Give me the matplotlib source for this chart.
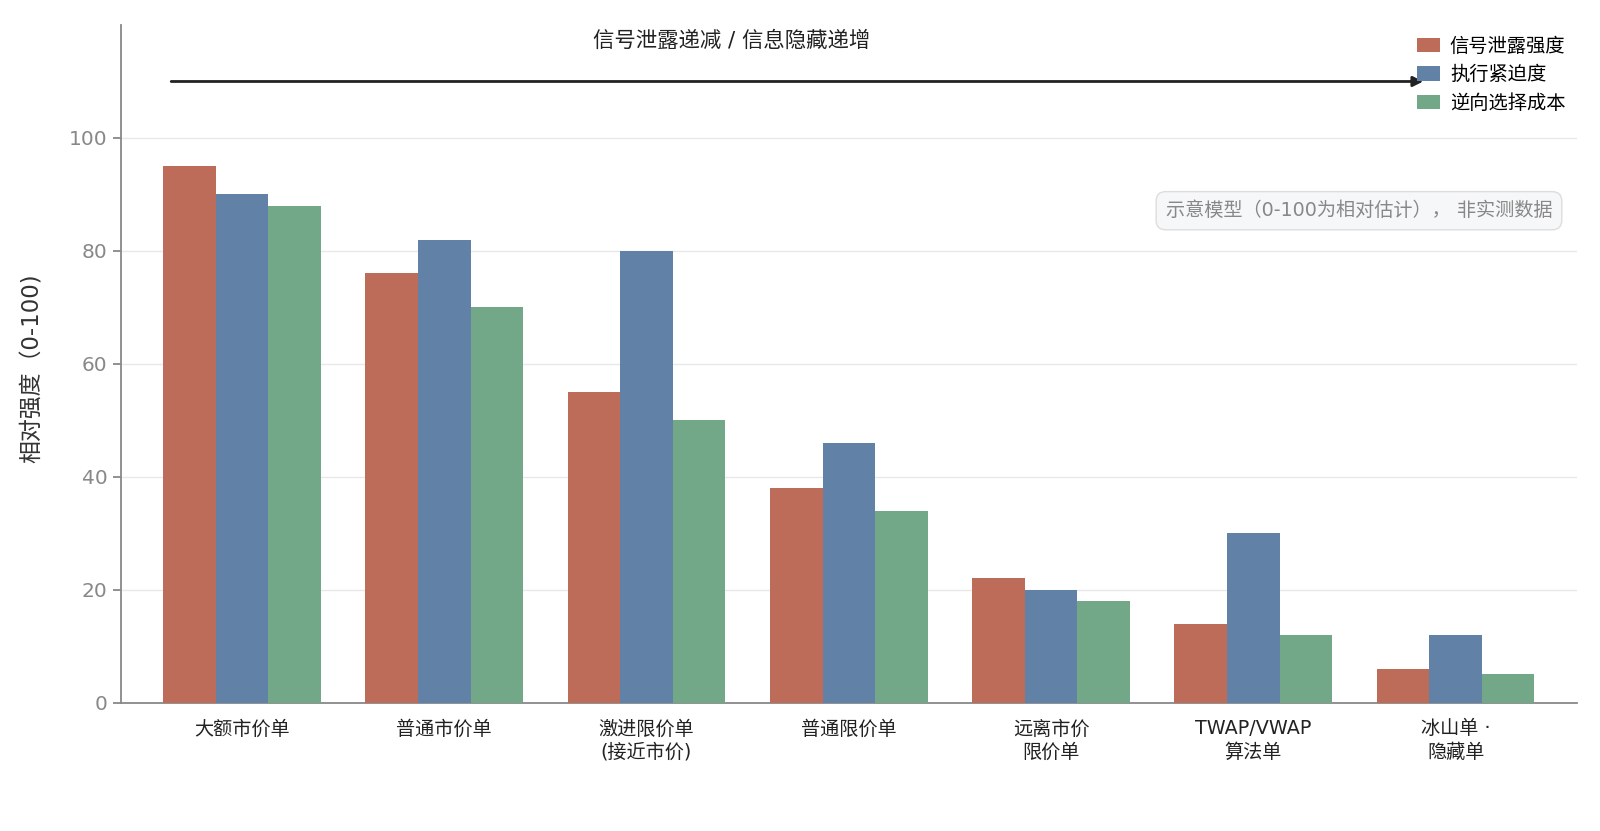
import matplotlib
matplotlib.use("Agg")
import matplotlib.pyplot as plt
import numpy as np

plt.rcParams['font.family'] = ['DejaVu Sans', 'Noto Sans CJK SC']

categories = ['大额市价单', '普通市价单', '激进限价单\n(接近市价)', '普通限价单',
              '远离市价\n限价单', 'TWAP/VWAP\n算法单', '冰山单 ·\n隐藏单']
series_names = ['信号泄露强度', '执行紧迫度', '逆向选择成本']
leakage = [95, 76, 55, 38, 22, 14, 6]
urgency = [90, 82, 80, 46, 20, 30, 12]
adverse = [88, 70, 50, 34, 18, 12, 5]
colors = ['#bd6c5a', '#6181a6', '#72a888']


def setup_figure_and_axes():
    fig = plt.figure(figsize=(16, 8.31), dpi=100)
    ax = fig.add_axes([0.0754, 0.1544, 0.9102, 0.8155])
    ax.spines['top'].set_visible(False)
    ax.spines['right'].set_visible(False)
    ax.spines['left'].set_color('#888888')
    ax.spines['bottom'].set_color('#888888')
    ax.spines['left'].set_linewidth(1.3)
    ax.spines['bottom'].set_linewidth(1.3)
    return fig, ax


def draw_bars(ax):
    x = np.arange(len(categories))
    width = 0.26
    for i, (vals, name) in enumerate(zip([leakage, urgency, adverse], series_names)):
        ax.bar(x + (i - 1) * width, vals, width, color=colors[i], label=name,
               linewidth=0, zorder=3)
    return x


def format_axes(ax, x):
    ax.set_xlim(-0.6, 6.6)
    ax.set_ylim(0, 120)
    ax.set_yticks([0, 20, 40, 60, 80, 100])
    ax.tick_params(axis='y', colors='#888888', labelsize=14.5, length=6, width=1.3)
    ax.tick_params(axis='x', length=0, labelsize=13.8, labelcolor='#222222', pad=12)
    ax.set_xticks(x)
    ax.set_xticklabels(categories, linespacing=1.3)
    ax.set_ylabel('相对强度（0-100)', fontsize=16.5, color='#333333')
    ax.yaxis.set_label_coords(-0.0527, 0.493)
    ax.grid(axis='y', color='#e6e8ec', linewidth=1, zorder=0)
    ax.set_axisbelow(True)


def draw_annotations(ax):
    ax.annotate('', xy=(5.84, 110), xytext=(-0.35, 110),
                arrowprops=dict(arrowstyle='-|>', color='#222222', lw=2,
                                mutation_scale=15, shrinkA=0, shrinkB=0))
    ax.text(2.42, 117.3, '信号泄露递减 / 信息隐藏递增', ha='center', va='center',
            fontsize=15.4, color='#222222')
    ax.text(0.983, 0.726, '示意模型（0-100为相对估计）， 非实测数据', transform=ax.transAxes,
            ha='right', va='center', fontsize=13.8, color='#888888',
            bbox=dict(boxstyle='round,pad=0.5,rounding_size=0.5', facecolor='#f6f7f9',
                      edgecolor='#dddddd', linewidth=1))


def draw_legend(ax):
    ax.legend(loc='upper right', bbox_to_anchor=(1.0, 1.0), frameon=False,
              fontsize=13.9, handlelength=1.2, handleheight=0.75,
              handletextpad=0.5, labelspacing=0.5, borderaxespad=0.2)


def draw():
    fig, ax = setup_figure_and_axes()
    x = draw_bars(ax)
    format_axes(ax, x)
    draw_annotations(ax)
    draw_legend(ax)
    fig.savefig('out.png', dpi=100, facecolor='white')


draw()
